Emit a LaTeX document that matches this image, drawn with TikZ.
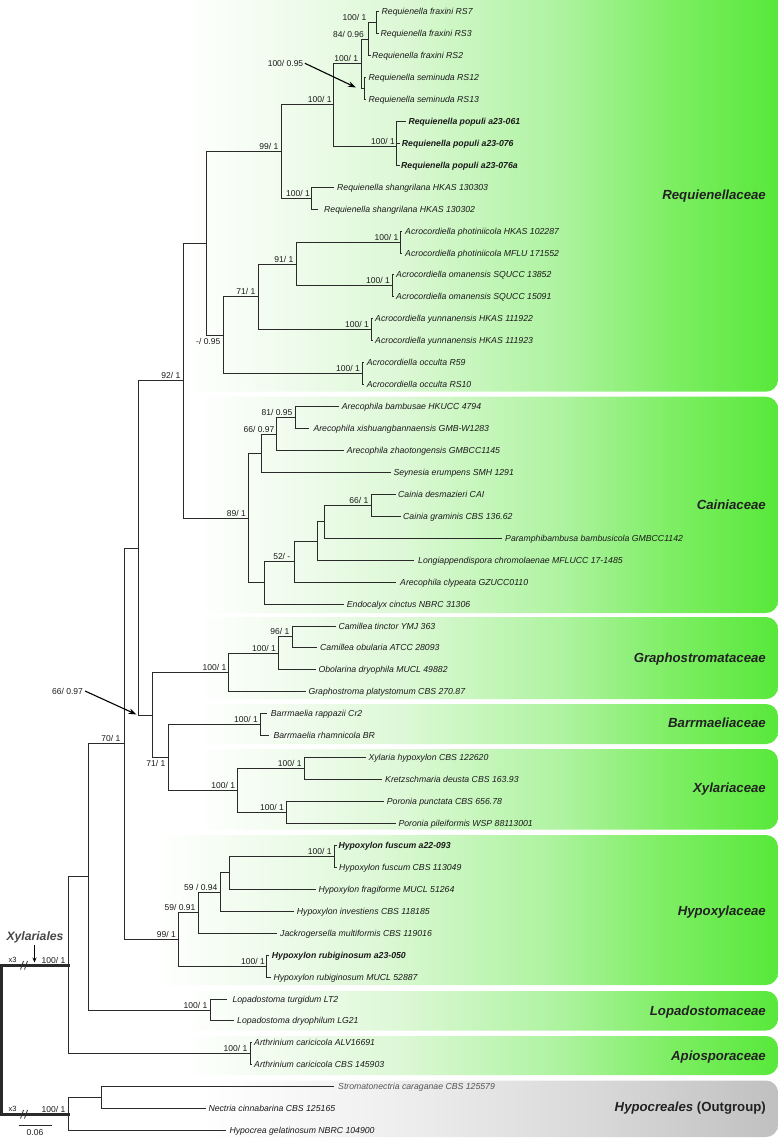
\documentclass[tikz,border=0pt]{standalone}
\usepackage{fontspec}
\setmainfont{Liberation Sans}
\usetikzlibrary{arrows.meta}
\definecolor{brc}{HTML}{2A2A2A}
\definecolor{txc}{HTML}{1A1A1A}
\definecolor{famc}{HTML}{222222}
\definecolor{grtx}{HTML}{555555}
\definecolor{gA}{RGB}{238,251,235}
\definecolor{gB}{RGB}{221,248,214}
\definecolor{gC}{RGB}{174,243,160}
\definecolor{gD}{RGB}{125,238,99}
\definecolor{gE}{RGB}{88,232,58}
\definecolor{hA}{RGB}{246,246,246}
\definecolor{hB}{RGB}{236,236,236}
\definecolor{hC}{RGB}{216,216,216}
\definecolor{hD}{RGB}{192,192,192}
\pgfdeclarehorizontalshading{greenfade}{100bp}{color(0bp)=(white); color(25bp)=(white); color(34.5bp)=(gA); color(43bp)=(gB); color(56.5bp)=(gC); color(66bp)=(gD); color(75bp)=(gE); color(100bp)=(gE)}
\pgfdeclarehorizontalshading{grayfade}{100bp}{color(0bp)=(white); color(25bp)=(white); color(35bp)=(hA); color(44bp)=(hB); color(59.5bp)=(hC); color(75bp)=(hD); color(100bp)=(hD)}
\newcommand\mkleaf[6][lf]{\coordinate (#2) at (#3,#4); \node[#1] (#2t) at (#5,#4+3) {#6};}
\newcommand\mkclade[3]{\draw[br] (#2) -- (#1 |- #2) -- (#1 |- #3) -- (#3);}
\newcommand\mkbs[4]{\node[bs] (#1) at (#2,#3-2.1) {#4};}
\newcommand\mkbsb[4]{\node[bs, anchor=north east] (#1) at (#2,#3+2.5) {#4};}
\begin{document}
\begin{tikzpicture}[x=1pt,y=-1pt,
  br/.style={draw=brc, line width=1.7pt, line cap=rect, line join=miter},
  thk/.style={draw=brc, line width=2.8pt, line cap=rect, line join=miter},
  lf/.style={font=\fontsize{8.7}{10}\selectfont\itshape, text=txc, inner sep=0pt, anchor=base west},
  lfb/.style={lf, font=\fontsize{8.7}{10}\selectfont\bfseries\itshape},
  lfg/.style={lf, text=grtx},
  bs/.style={font=\fontsize{8.5}{10}\selectfont, text=txc, inner sep=0pt, anchor=base east},
  fam/.style={font=\fontsize{13.2}{15}\selectfont\bfseries\itshape, text=famc, inner sep=0pt, anchor=base east},
  gbox/.style={shading=greenfade, rounded corners=12pt},
  hbox/.style={shading=grayfade, rounded corners=12pt},
  arr/.style={draw=black, line width=1.1pt, -{Stealth[length=8pt,width=5.5pt]}}
  ]
\useasboundingbox (0,0) rectangle (778,1138);
\fill[white] (0,0) rectangle (778,1138);
% ---------- family panels ----------
\shade[gbox] (185,-15) rectangle (778,391.7);
\shade[gbox] (195,396.7) rectangle (778,613);
\shade[gbox] (195,617) rectangle (778,699);
\shade[gbox] (195,704) rectangle (778,744);
\shade[gbox] (195,749) rectangle (778,829.5);
\shade[gbox] (155,835) rectangle (778,985);
\shade[gbox] (185,991) rectangle (778,1030.5);
\shade[gbox] (185,1036) rectangle (778,1075);
\shade[hbox] (200,1080.5) rectangle (778,1137);
\node[fam] (fReq) at (766,195+4.7) {Requienellaceae};
\node[fam] (fCai) at (766,505+4.7) {Cainiaceae};
\node[fam] (fGra) at (766,657.5+4.7) {Graphostromataceae};
\node[fam] (fBar) at (766,722.5+4.7) {Barrmaeliaceae};
\node[fam] (fXyl) at (766,788+4.7) {Xylariaceae};
\node[fam] (fHyp) at (766,911+4.7) {Hypoxylaceae};
\node[fam] (fLop) at (766,1010.7+4.7) {Lopadostomaceae};
\node[fam] (fApi) at (766,1056+4.7) {Apiosporaceae};
\node[fam, font=\fontsize{13.2}{15}\selectfont\bfseries] (fOut) at (766,1107+4.7) {\textit{Hypocreales} (Outgroup)};
% ---------- leaves ----------
\mkleaf{L1}{378.5}{11.5}{381.5}{Requienella fraxini RS7}
\mkleaf{L2}{378.5}{33.5}{380.5}{Requienella fraxini RS3}
\mkleaf{L3}{370.5}{55.5}{372}{Requienella fraxini RS2}
\mkleaf{L4}{365.5}{77.5}{368.5}{Requienella seminuda RS12}
\mkleaf{L5}{365.5}{99.5}{368.5}{Requienella seminuda RS13}
\mkleaf[lfb]{L6}{405.5}{121.5}{408.3}{Requienella populi a23-061}
\mkleaf[lfb]{L7}{399.5}{143.5}{401.7}{Requienella populi a23-076}
\mkleaf[lfb]{L8}{399.5}{165.5}{401}{Requienella populi a23-076a}
\mkleaf{L9}{333.5}{187.5}{337}{Requienella shangrilana HKAS 130303}
\mkleaf{L10}{317.5}{209.5}{324}{Requienella shangrilana HKAS 130302}
\mkleaf{L11}{401.5}{231.5}{405}{Acrocordiella photiniicola HKAS 102287}
\mkleaf{L12}{401.5}{253.5}{405}{Acrocordiella photiniicola MFLU 171552}
\mkleaf{L13}{393.5}{274.5}{396}{Acrocordiella omanensis SQUCC 13852}
\mkleaf{L14}{393.5}{296.5}{396}{Acrocordiella omanensis SQUCC 15091}
\mkleaf{L15}{372.5}{318.5}{375}{Acrocordiella yunnanensis HKAS 111922}
\mkleaf{L16}{372.5}{340.5}{375}{Acrocordiella yunnanensis HKAS 111923}
\mkleaf{L17}{363.5}{362.5}{366.7}{Acrocordiella occulta R59}
\mkleaf{L18}{363.5}{384.5}{366.7}{Acrocordiella occulta RS10}
\mkleaf{L19}{338.5}{406.5}{341.7}{Arecophila bambusae HKUCC 4794}
\mkleaf{L20}{308.5}{428.5}{313.3}{Arecophila xishuangbannaensis GMB-W1283}
\mkleaf{L21}{343.5}{450.5}{346.7}{Arecophila zhaotongensis GMBCC1145}
\mkleaf{L22}{390.5}{472.5}{393.3}{Seynesia erumpens SMH 1291}
\mkleaf{L23}{395.5}{494.5}{398}{Cainia desmazieri CAI}
\mkleaf{L24}{400.5}{516.5}{403}{Cainia graminis CBS 136.62}
\mkleaf{L25}{501.5}{538.5}{505}{Paramphibambusa bambusicola GMBCC1142}
\mkleaf{L26}{413.5}{560.5}{418}{Longiappendispora chromolaenae MFLUCC 17-1485}
\mkleaf{L27}{395.5}{582.5}{400}{Arecophila clypeata GZUCC0110}
\mkleaf{L28}{343.5}{604.5}{346.7}{Endocalyx cinctus NBRC 31306}
\mkleaf{L29}{335.5}{626.5}{338.3}{Camillea tinctor YMJ 363}
\mkleaf{L30}{316.5}{647.5}{320}{Camillea obularia ATCC 28093}
\mkleaf{L31}{315.5}{669.5}{318.3}{Obolarina dryophila MUCL 49882}
\mkleaf{L32}{305.5}{691.5}{308.3}{Graphostroma platystomum CBS 270.87}
\mkleaf{L33}{266.5}{713.5}{270.7}{Barrmaelia rappazii Cr2}
\mkleaf{L34}{268.5}{735.5}{273.3}{Barrmaelia rhamnicola BR}
\mkleaf{L35}{365.5}{757.5}{368.3}{Xylaria hypoxylon CBS 122620}
\mkleaf{L36}{381.5}{779.5}{385}{Kretzschmaria deusta CBS 163.93}
\mkleaf{L37}{383.5}{801.5}{386.7}{Poronia punctata CBS 656.78}
\mkleaf{L38}{395.5}{823.5}{398.3}{Poronia pileiformis WSP 88113001}
\mkleaf[lfb]{L39}{336.5}{845.5}{338.3}{Hypoxylon fuscum a22-093}
\mkleaf{L40}{336.5}{867.5}{339}{Hypoxylon fuscum CBS 113049}
\mkleaf{L41}{315.5}{889.5}{318.3}{Hypoxylon fragiforme MUCL 51264}
\mkleaf{L42}{293.5}{911.5}{296.7}{Hypoxylon investiens CBS 118185}
\mkleaf{L43}{276.5}{933.5}{280}{Jackrogersella multiformis CBS 119016}
\mkleaf[lfb]{L44}{268.5}{955.5}{271.7}{Hypoxylon rubiginosum a23-050}
\mkleaf{L45}{270.5}{977.5}{273.3}{Hypoxylon rubiginosum MUCL 52887}
\mkleaf{L46}{226.5}{999.5}{232.3}{Lopadostoma turgidum LT2}
\mkleaf{L47}{233.5}{1020.5}{237}{Lopadostoma dryophilum LG21}
\mkleaf{L48}{251.5}{1042.5}{254}{Arthrinium caricicola ALV16691}
\mkleaf{L49}{251.5}{1064.5}{254}{Arthrinium caricicola CBS 145903}
\mkleaf[lfg]{L50}{333.5}{1086.5}{338}{Stromatonectria caraganae CBS 125579}
\mkleaf{L51}{205.5}{1108.5}{208.3}{Nectria cinnabarina CBS 125165}
\mkleaf{L52}{225.5}{1130.5}{229.3}{Hypocrea gelatinosum NBRC 104900}
% ---------- internal nodes ----------
\coordinate (fr73) at (376.5,22.5);
\coordinate (n84) at (368.5,39.5);
\coordinate (nsem) at (364.5,88.5);
\coordinate (n100a) at (361.5,63.5);
\coordinate (npop) at (396.5,146.5);
\coordinate (n100b) at (333.5,104.5);
\coordinate (nshan) at (311.5,198.5);
\coordinate (n99) at (281.5,151.5);
\coordinate (nphot) at (400.5,242.5);
\coordinate (noman) at (392.5,285.5);
\coordinate (n91) at (296.5,264.5);
\coordinate (nyun) at (371.5,329.5);
\coordinate (n71a) at (258.5,296.5);
\coordinate (nocc) at (362.5,373.5);
\coordinate (nacro) at (223.5,335.5);
\coordinate (nreq) at (206.5,243.5);
\coordinate (n81) at (295.5,417.5);
\coordinate (n66) at (276.5,434.5);
\coordinate (n261) at (261.5,453.5);
\coordinate (n66b) at (371.5,505.5);
\coordinate (n324) at (324.5,521.5);
\coordinate (n317) at (317.5,541.5);
\coordinate (n52) at (294.5,561.5);
\coordinate (n264) at (264.5,582.5);
\coordinate (n89) at (248.5,518.5);
\coordinate (n92) at (183.5,380.5);
\coordinate (n96) at (292.5,636.5);
\coordinate (n100c) at (278.5,653.5);
\coordinate (n100g) at (228.5,672.5);
\coordinate (nbar) at (260.5,724.5);
\coordinate (nxyl1) at (304.5,768.5);
\coordinate (npor) at (286.5,812.5);
\coordinate (nxyl) at (237.5,790.5);
\coordinate (n71b) at (168.5,757.5);
\coordinate (n66x) at (152.5,715.5);
\coordinate (n138) at (138.5,548.5);
\coordinate (nfus) at (334.5,856.5);
\coordinate (n229) at (229.5,872.5);
\coordinate (n59b) at (220.5,892.5);
\coordinate (n59a) at (198.5,912.5);
\coordinate (nrub) at (266.5,966.5);
\coordinate (n99h) at (178.5,939.5);
\coordinate (n70) at (124.5,743.5);
\coordinate (nlop) at (210.5,1010.5);
\coordinate (n88) at (88.5,876.5);
\coordinate (napi) at (250.5,1053.5);
\coordinate (nxylr) at (68.5,965.5);
\coordinate (nhyp2) at (101.5,1097.5);
\coordinate (nout) at (68.5,1114.5);
\coordinate (root) at (1.5,1040);
% ---------- branches ----------
\mkclade{fr73}{L1}{L2}
\mkclade{n84}{fr73}{L3}
\mkclade{nsem}{L4}{L5}
\mkclade{n100a}{n84}{nsem}
\mkclade{npop}{L6}{L8}
\draw[br] (npop |- L7) -- (L7);
\mkclade{n100b}{n100a}{npop}
\mkclade{nshan}{L9}{L10}
\mkclade{n99}{n100b}{nshan}
\mkclade{nphot}{L11}{L12}
\mkclade{noman}{L13}{L14}
\mkclade{n91}{nphot}{noman}
\mkclade{nyun}{L15}{L16}
\mkclade{n71a}{n91}{nyun}
\mkclade{nocc}{L17}{L18}
\mkclade{nacro}{n71a}{nocc}
\mkclade{nreq}{n99}{nacro}
\mkclade{n81}{L19}{L20}
\mkclade{n66}{n81}{L21}
\mkclade{n261}{n66}{L22}
\mkclade{n66b}{L23}{L24}
\mkclade{n324}{n66b}{L25}
\mkclade{n317}{n324}{L26}
\mkclade{n52}{n317}{L27}
\mkclade{n264}{n52}{L28}
\mkclade{n89}{n261}{n264}
\mkclade{n92}{nreq}{n89}
\mkclade{n96}{L29}{L30}
\mkclade{n100c}{n96}{L31}
\mkclade{n100g}{n100c}{L32}
\mkclade{nbar}{L33}{L34}
\mkclade{nxyl1}{L35}{L36}
\mkclade{npor}{L37}{L38}
\mkclade{nxyl}{nxyl1}{npor}
\mkclade{n71b}{nbar}{nxyl}
\mkclade{n66x}{n100g}{n71b}
\mkclade{n138}{n92}{n66x}
\mkclade{nfus}{L39}{L40}
\mkclade{n229}{nfus}{L41}
\mkclade{n59b}{n229}{L42}
\mkclade{n59a}{n59b}{L43}
\mkclade{nrub}{L44}{L45}
\mkclade{n99h}{n59a}{nrub}
\mkclade{n70}{n138}{n99h}
\mkclade{nlop}{L46}{L47}
\mkclade{n88}{n70}{nlop}
\mkclade{napi}{L48}{L49}
\mkclade{nxylr}{n88}{napi}
\mkclade{nhyp2}{L50}{L51}
\mkclade{nout}{nhyp2}{L52}
\draw[thk] (nxylr) -- (root |- nxylr) -- (root |- nout) -- (nout);
% break marks
\coordinate (bk1) at (20.5,969.5); \coordinate (bk1e) at (23.5,961);
\coordinate (bk2) at (24.5,969.5); \coordinate (bk2e) at (27.5,961);
\draw[draw=brc, line width=0.8pt] (bk1) -- (bk1e) (bk2) -- (bk2e);
\coordinate (bk3) at (20.5,1118.5); \coordinate (bk3e) at (23.5,1110);
\coordinate (bk4) at (24.5,1118.5); \coordinate (bk4e) at (27.5,1110);
\draw[draw=brc, line width=0.8pt] (bk3) -- (bk3e) (bk4) -- (bk4e);
\node[bs, anchor=base west, font=\fontsize{7.5}{9}\selectfont] (x3a) at (8.5,962.5) {x3};
\node[bs, anchor=base west, font=\fontsize{7.5}{9}\selectfont] (x3b) at (8.5,1111.5) {x3};
% ---------- support values ----------
\mkbs{s1}{366.5}{22.5}{100/ 1}
\mkbs{s2}{364}{39.5}{84/ 0.96}
\mkbs{s3}{358.3}{63.5}{100/ 1}
\mkbs{s4}{395}{146.5}{100/ 1}
\mkbs{s5}{331.7}{104.5}{100/ 1}
\mkbs{s6}{278.5}{151.5}{99/ 1}
\mkbs{s7}{310}{198.5}{100/ 1}
\mkbs{s8}{398.5}{242.5}{100/ 1}
\mkbs{s9}{390}{285.5}{100/ 1}
\mkbs{s10}{293.5}{264.5}{91/ 1}
\mkbs{s11}{369}{329.5}{100/ 1}
\mkbs{s12}{255.5}{296.5}{71/ 1}
\mkbs{s13}{360}{373.5}{100/ 1}
\mkbsb{s14}{220.5}{335.5}{-/ 0.95}
\mkbs{s15}{180.5}{380.5}{92/ 1}
\mkbs{s16}{292.5}{417.5}{81/ 0.95}
\mkbs{s17}{274.5}{434.5}{66/ 0.97}
\mkbs{s18}{246}{518.5}{89/ 1}
\mkbs{s19}{368.5}{505.5}{66/ 1}
\mkbs{s20}{290.5}{561.5}{52/ -}
\mkbs{s21}{289.5}{636.5}{96/ 1}
\mkbs{s22}{276}{653.5}{100/ 1}
\mkbs{s23}{226.5}{672.5}{100/ 1}
\mkbs{s24}{258}{724.5}{100/ 1}
\mkbs{s25}{301.7}{768.5}{100/ 1}
\mkbs{s26}{284}{812.5}{100/ 1}
\mkbs{s27}{235.3}{790.5}{100/ 1}
\mkbsb{s28}{165.5}{757.5}{71/ 1}
\mkbs{s29}{120.5}{743.5}{70/ 1}
\mkbs{s30}{331.7}{856.5}{100/ 1}
\mkbs{s31}{217.5}{892.5}{59 / 0.94}
\mkbs{s32}{195.5}{912.5}{59/ 0.91}
\mkbs{s33}{265}{966.5}{100/ 1}
\mkbs{s34}{176}{939.5}{99/ 1}
\mkbs{s35}{207.5}{1010.5}{100/ 1}
\mkbs{s36}{247.5}{1053.5}{100/ 1}
\mkbs{s37}{65.5}{965.5}{100/ 1}
\mkbs{s38}{65.5}{1114.5}{100/ 1}
% ---------- arrows and extra labels ----------
\node[bs, anchor=center] (a1) at (285.5,63.3) {100/ 0.95};
\coordinate (a1e) at (356,87.5);
\draw[arr] (a1.east) ++(1.5pt,0) -- (a1e);
\node[bs, anchor=center] (a2) at (67.5,691) {66/ 0.97};
\coordinate (a2e) at (136.5,714.5);
\draw[arr] (a2.east) ++(2pt,0) -- (a2e);
\node[font=\fontsize{12.2}{14}\selectfont\bfseries\itshape, text=black!72, inner sep=0pt] (xylr) at (35,937.3) {Xylariales};
\coordinate (xyle) at (34.5,962.5);
\draw[draw=black, line width=1pt, -{Stealth[length=5pt,width=4pt]}] (xylr.south) ++(-0.5pt,-2pt) -- (xyle);
% scale bar
\coordinate (sb1) at (18.5,1125.5); \coordinate (sb2) at (51.5,1125.5);
\draw[draw=brc, line width=1.3pt] (sb1) -- (sb2);
\node[bs, anchor=center] (sbl) at (35,1133) {0.06};
\end{tikzpicture}
\end{document}
